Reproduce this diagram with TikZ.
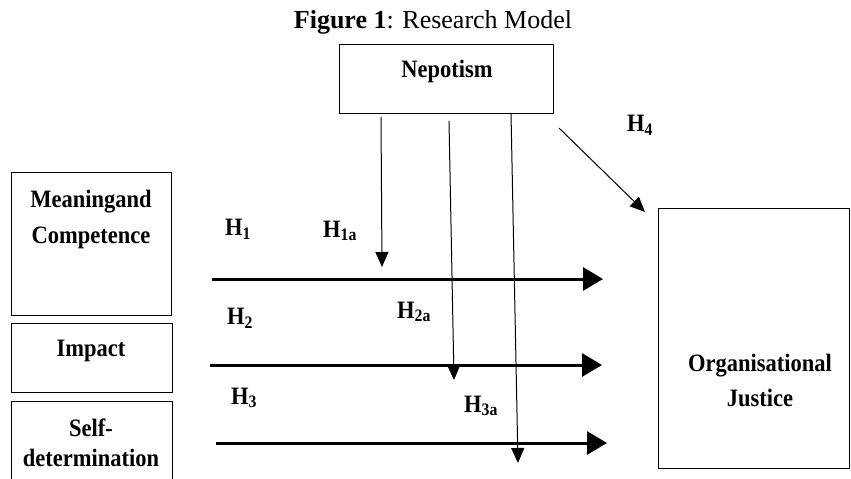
\documentclass[tikz,border=0pt]{standalone}
\usepackage{fontspec}
\setmainfont{Liberation Serif}
\newfontfamily\cf{Liberation Serif}[FakeStretch=0.9]
\usetikzlibrary{arrows.meta}
\begin{document}
\begin{tikzpicture}[x=1pt,y=-1pt,
  box/.style={draw, line width=1pt, inner sep=0pt, anchor=north west},
  lbl/.style={font=\cf\bfseries\fontsize{25}{36}\selectfont, align=center, inner sep=0pt},
  bigarrow/.style={line width=3pt, -{Triangle[length=20pt,width=23pt]}},
  modarrow/.style={line width=1pt, -{Triangle[length=15pt,width=13pt]}}]
\useasboundingbox (0,0) rectangle (851,479);

\node[font=\fontsize{26}{28}\selectfont, inner sep=0pt] (title) at (433,22) {\textbf{Figure 1}: Research Model};

% boxes
\node[box, minimum width=214pt, minimum height=69pt] (nep) at (339,44) {};
\node[box, minimum width=160pt, minimum height=143pt] (mc) at (11,172) {};
\node[box, minimum width=161pt, minimum height=69pt] (imp) at (11,323) {};
\node[box, minimum width=161pt, minimum height=100pt] (sd) at (11,401) {};
\node[box, minimum width=191pt, minimum height=260pt] (oj) at (658,208) {};

% box texts
\node[lbl] (neptxt) at (447,71) {Nepotism};
\node[lbl] (mctxt) at (91,219) {Meaningand\\Competence};
\node[lbl] (imptxt) at (91,351) {Impact};
\node[lbl, font=\cf\bfseries\fontsize{25}{30}\selectfont] (sdtxt) at (91,443) {Self-\\determination};
\node[lbl, font=\cf\bfseries\fontsize{25}{35}\selectfont] (ojtxt) at (760,380) {Organisational\\Justice};

% hypothesis labels
\node[lbl] (h1) at (238,229) {H\textsubscript{1}};
\node[lbl] (h1a) at (340,231) {H\textsubscript{1a}};
\node[lbl] (h2) at (240,318) {H\textsubscript{2}};
\node[lbl] (h2a) at (414,312) {H\textsubscript{2a}};
\node[lbl] (h3) at (244,398) {H\textsubscript{3}};
\node[lbl] (h3a) at (481,406) {H\textsubscript{3a}};
\node[lbl] (h4) at (640,125) {H\textsubscript{4}};

% coordinates
\coordinate (a1s) at (212,279); \coordinate (a1e) at (603,279);
\coordinate (a2s) at (210,365); \coordinate (a2e) at (602,365);
\coordinate (a3s) at (216,443); \coordinate (a3e) at (607,443);
\coordinate (v1s) at (381,117); \coordinate (v1e) at (382,267);
\coordinate (v2s) at (449,121); \coordinate (v2e) at (454,380);
\coordinate (v3s) at (511,113); \coordinate (v3e) at (518,463);
\coordinate (d4s) at (559,128); \coordinate (d4e) at (645,212);

\draw[bigarrow] (a1s) -- (a1e);
\draw[bigarrow] (a2s) -- (a2e);
\draw[bigarrow] (a3s) -- (a3e);
\draw[modarrow] (v1s) -- (v1e);
\draw[modarrow] (v2s) -- (v2e);
\draw[modarrow] (v3s) -- (v3e);
\draw[modarrow] (d4s) -- (d4e);
\end{tikzpicture}
\end{document}
